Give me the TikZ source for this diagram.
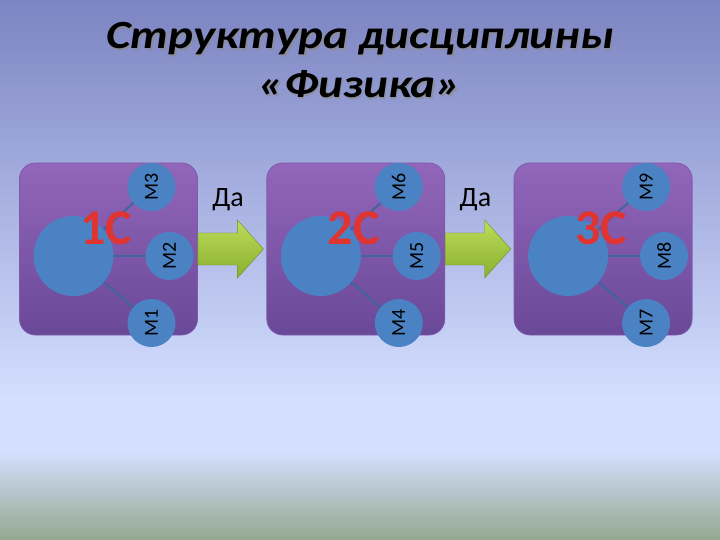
\documentclass[tikz,border=0pt]{standalone}
\usepackage{fontspec}
\setmainfont{Carlito}
\usetikzlibrary{positioning, calc, backgrounds}
\definecolor{slidetop}{HTML}{7C84C2}
\definecolor{slidemid}{HTML}{D4DFFF}
\definecolor{slidebottom}{HTML}{93A88F}
\definecolor{boxtop}{HTML}{9266BA}
\definecolor{boxbottom}{HTML}{6A4898}
\definecolor{boxedge}{HTML}{7D5AAE}
\definecolor{discblue}{HTML}{4A82C4}
\definecolor{linkblue}{HTML}{3F649E}
\definecolor{labelred}{HTML}{E03430}
\definecolor{arrowtop}{HTML}{BCDC5A}
\definecolor{arrowbottom}{HTML}{88B02E}

\begin{document}
\begin{tikzpicture}[
    x=1pt, y=-1pt,
    semester/.style={rectangle, rounded corners=16pt, minimum width=178pt, minimum height=172pt, draw=boxedge, line width=0.8pt, top color=boxtop, bottom color=boxbottom},
    core/.style={circle, fill=discblue, minimum size=80pt, inner sep=0pt},
    module/.style={circle, fill=discblue, minimum size=48pt, inner sep=0pt, font=\fontsize{20}{24}\selectfont, rotate=90},
    link/.style={draw=linkblue, line width=2pt},
    code/.style={font=\fontsize{50}{56}\selectfont\bfseries, text=labelred},
    answer/.style={font=\fontsize{28}{32}\selectfont},
    heading/.style={font=\fontsize{40}{48}\selectfont\bfseries\itshape, anchor=base, xscale=1.18},
    fatarrow/.style={top color=arrowtop, bottom color=arrowbottom, draw=arrowbottom!80!black, line width=0.4pt}
]
\useasboundingbox (0,0) rectangle (720,540);

\begin{scope}[on background layer]
\shade[top color=slidetop, bottom color=slidemid] (0,0) rectangle (720,400);
\fill[slidemid] (0,399.5) rectangle (720,452);
\shade[top color=slidemid, bottom color=slidebottom] (0,451.5) rectangle (720,540);

\node (box1) [semester] at (108.5,249) {};
\node (box2) [semester, right=68.5pt of box1] {};
\node (box3) [semester, right=68.5pt of box2] {};

% green arrows between the semesters
\draw [fatarrow] ($(box1.east)+(0,-16)$) -- ($(box2.west)+(-29,-16)$) -- ($(box2.west)+(-29,-29)$)
    -- ($(box2.west)+(-3,0)$) -- ($(box2.west)+(-29,29)$) -- ($(box2.west)+(-29,16)$) -- ($(box1.east)+(0,16)$) -- cycle;
\draw [fatarrow] ($(box2.east)+(0,-16)$) -- ($(box3.west)+(-29,-16)$) -- ($(box3.west)+(-29,-29)$)
    -- ($(box3.west)+(-3,0)$) -- ($(box3.west)+(-29,29)$) -- ($(box3.west)+(-29,16)$) -- ($(box2.east)+(0,16)$) -- cycle;
\end{scope}

\node (core1) [core] at ($(box1.center)+(-35,7)$) {};
\node (m1) [module] at ($(box1.center)+(43,74)$) {М1};
\node (m2) [module] at ($(box1.center)+(61,7)$) {М2};
\node (m3) [module] at ($(box1.center)+(43,-62)$) {М3};
\node (sem1) [code] at ($(box1.center)+(-2,-21)$) {1С};

\node (core2) [core] at ($(box2.center)+(-35,7)$) {};
\node (m4) [module] at ($(box2.center)+(43,74)$) {М4};
\node (m5) [module] at ($(box2.center)+(61,7)$) {М5};
\node (m6) [module] at ($(box2.center)+(43,-62)$) {М6};
\node (sem2) [code] at ($(box2.center)+(-2,-21)$) {2С};

\node (core3) [core] at ($(box3.center)+(-35,7)$) {};
\node (m7) [module] at ($(box3.center)+(43,74)$) {М7};
\node (m8) [module] at ($(box3.center)+(61,7)$) {М8};
\node (m9) [module] at ($(box3.center)+(43,-62)$) {М9};
\node (sem3) [code] at ($(box3.center)+(-2,-21)$) {3С};

\begin{scope}[on background layer]
\draw [link] (core1.center) -- (m1.center);
\draw [link] (core1.center) -- (m2.center);
\draw [link] (core1.center) -- (m3.center);
\draw [link] (core2.center) -- (m4.center);
\draw [link] (core2.center) -- (m5.center);
\draw [link] (core2.center) -- (m6.center);
\draw [link] (core3.center) -- (m7.center);
\draw [link] (core3.center) -- (m8.center);
\draw [link] (core3.center) -- (m9.center);
\end{scope}

\node (yes1) [answer] at ($(box1.east)!0.5!(box2.west)+(-4,-49)$) {Да};
\node (yes2) [answer] at ($(box2.east)!0.5!(box3.west)+(-4,-49)$) {Да};

% title with a soft shadow
\node [heading, text=black!45, opacity=0.7] at (361.5,50.5) {Структура дисциплины};
\node [heading, text=black!45, opacity=0.7] at (361.5,99.5) {«Физика»};
\node (title) [heading] at (360,49) {Структура дисциплины};
\node (subtitle) [heading] at (360,98) {«Физика»};

\end{tikzpicture}
\end{document}
